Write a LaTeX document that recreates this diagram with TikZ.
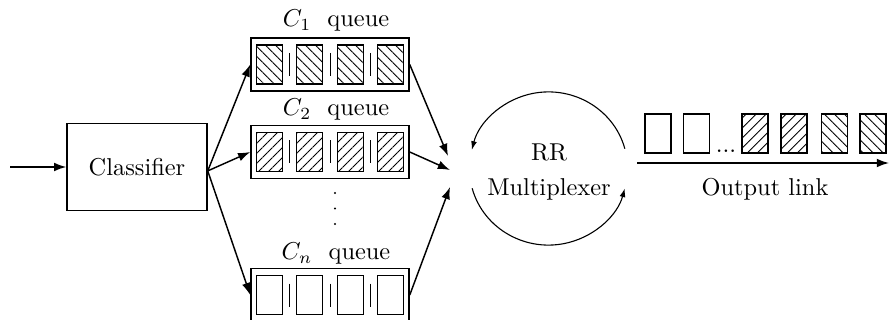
\documentclass[tikz,border=0pt]{standalone}
\usetikzlibrary{arrows.meta,patterns.meta}
\begin{document}
\begin{tikzpicture}[x=0.41pt,y=-0.41pt,
  box/.style={draw,line width=0.6pt,inner sep=0pt},
  queuebox/.style={draw,line width=0.6pt,minimum width=64.8pt,minimum height=21.7pt,inner sep=0pt},
  cellbox/.style={draw,line width=0.5pt,minimum width=10.66pt,minimum height=16pt,inner sep=0pt},
  hatchNW/.style={pattern={Lines[angle=-45,distance=2.9pt,line width=0.35pt]}},
  hatchNE/.style={pattern={Lines[angle=45,distance=2.9pt,line width=0.35pt]}},
  plain/.style={},
  sep/.style={line width=0.4pt},
  arr/.style={line width=0.6pt,-{Latex[length=5pt,width=3.6pt]}},
  turn/.style={line width=0.45pt,-{Latex[length=3.6pt,width=2.4pt]}},
  label/.style={inner sep=1pt}]
\useasboundingbox (0,0) rectangle (890,320);

% classifier and incoming traffic
\node[box,minimum width=57.4pt,minimum height=35.7pt] (cls) at (137,167) {Classifier};
\coordinate (in) at (10,167);
\draw[arr] (in) -- (cls);
\coordinate (fork) at ([yshift=-1.6pt]cls.east);

% the per-class queues
\foreach \q/\yc/\fillstyle in {1/64.5/hatchNW,2/152/hatchNE,n/295/plain} {
  \node[queuebox] (q\q) at (330,\yc) {};
  \foreach \i/\dx in {1/-60.5,2/-20.2,3/20.2,4/60.5}
    \node[cellbox,\fillstyle] (q\q-\i) at (330+\dx,\yc) {};
  \foreach \dx in {-40.3,0,40.3}
    \draw[sep] (330+\dx,\yc-11.5) -- (330+\dx,\yc+11.5);
}
\node[label] (l1) at (336,21) {$C_1$\ \ queue};
\node[label] (l2) at (336,110) {$C_2$\ \ queue};
\node[label] (ln) at (336,254) {$C_n$\ \ queue};

% vertical ellipsis between C2 and Cn
\foreach \yd in {193,208.5,224}
  \fill (335,\yd) circle (0.5pt);

\draw[arr] (fork) -- (q1.west);
\draw[arr] (fork) -- (q2.west);
\draw[arr] (fork) -- (qn.west);

% round-robin multiplexer
\coordinate (m1) at (448,156);
\coordinate (m2) at (450,170);
\coordinate (m3) at (450,187);
\draw[arr] (q1.east) -- (m1);
\draw[arr] (q2.east) -- (m2);
\draw[arr] (qn.east) -- (m3);

\node[align=center] (rr) at (549,172) {RR\\[2.4pt]Multiplexer};
\coordinate (mc) at (548.5,168.5);
\draw[turn] ([shift={(15:32.4pt and 31.4pt)}]mc)
  arc[start angle=15,end angle=166,x radius=32.4pt,y radius=31.4pt];
\draw[turn] ([shift={(195:32.4pt and 31.4pt)}]mc)
  arc[start angle=195,end angle=345,x radius=32.4pt,y radius=31.4pt];

% output link with departing packets
\coordinate (ls) at (637,163);
\coordinate (le) at (889,163);
\draw[arr] (ls) -- (le);
\node (olabel) at (765,189) {Output link};

\node[cellbox] (o1) at (658,133.5) {};
\node[cellbox] (o2) at (696.5,133.5) {};
\node[anchor=base,inner sep=0pt] (odots) at (726,152.5) {...};
\node[cellbox,hatchNE] (o3) at (755,133.5) {};
\node[cellbox,hatchNE] (o4) at (794,133.5) {};
\node[cellbox,hatchNW] (o5) at (834.5,133.5) {};
\node[cellbox,hatchNW] (o6) at (873,133.5) {};
\end{tikzpicture}
\end{document}
